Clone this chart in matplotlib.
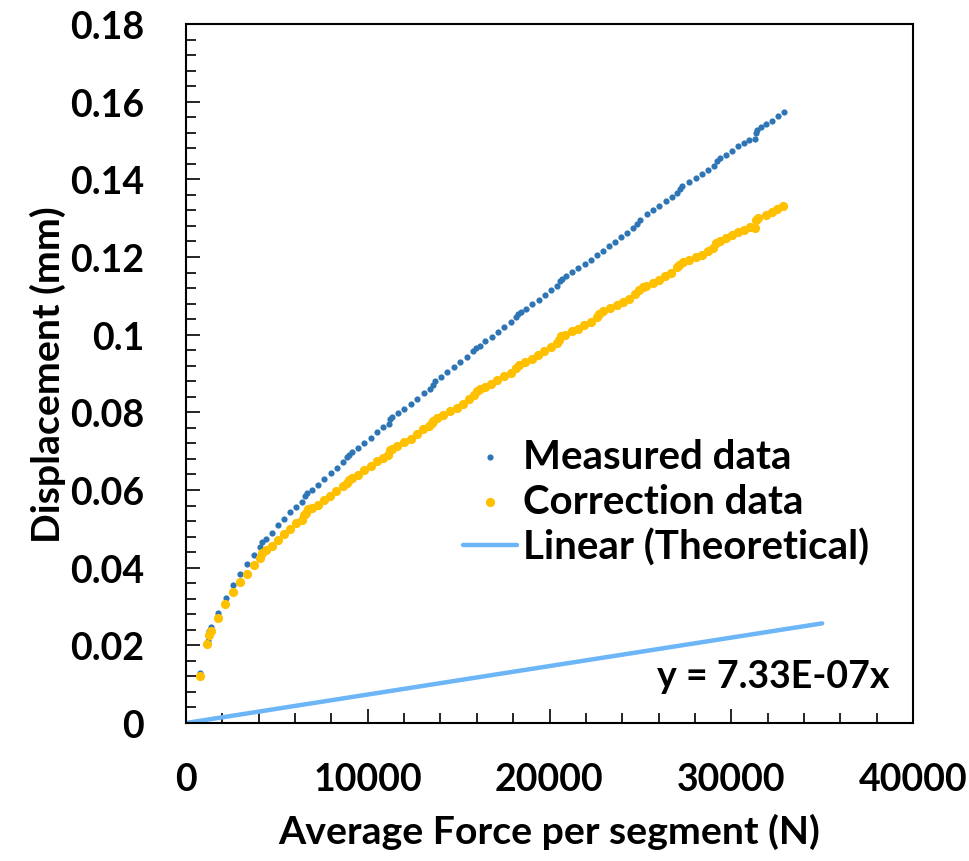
import matplotlib
matplotlib.use("Agg")
import matplotlib.pyplot as plt
from matplotlib.ticker import MultipleLocator, FixedLocator
import numpy as np

plt.rcParams['font.family'] = ['Lato', 'DejaVu Sans']
plt.rcParams['font.weight'] = 'bold'

# Measured displacement vs average force per segment
measured_force = [
    786, 1194, 1282, 1392, 1760, 2184, 2585, 2987, 3355, 3740,
    4070, 4208, 4400, 4714, 5044, 5407, 5720, 6050, 6364, 6545,
    6639, 6947, 7260, 7607, 7959, 8289, 8619, 8883, 8993, 9158,
    9460, 9807, 10159, 10522, 10852, 11182, 11220, 11347, 11644, 12007,
    12359, 12705, 13074, 13420, 13602, 13695, 14025, 14383, 14740, 15098,
    15455, 15813, 15950, 16170, 16445, 16814, 17177, 17507, 17875, 18150,
    18277, 18409, 18700, 19047, 19415, 19745, 20075, 20422, 20570, 20664,
    20900, 21247, 21577, 21945, 22275, 22605, 22935, 23265, 23623, 23953,
    24283, 24613, 24805, 24970, 25339, 25685, 26032, 26384, 26714, 27005,
    27154, 27280, 27693, 28050, 28380, 28727, 29040, 29189, 29354, 29700,
    30014, 30344, 30690, 30993, 31295, 31389, 31422, 31625, 31900, 32247,
    32560, 32890,
]
measured_disp = [
    0.01275, 0.02106, 0.02364, 0.02472, 0.02838, 0.03214, 0.03554, 0.03842, 0.04087, 0.04321,
    0.04532, 0.04656, 0.04738, 0.04898, 0.05086, 0.05258, 0.05428, 0.05567, 0.05686, 0.05850,
    0.05910, 0.06007, 0.06141, 0.06278, 0.06425, 0.06561, 0.06721, 0.06855, 0.06914, 0.06983,
    0.07081, 0.07215, 0.07344, 0.07498, 0.07627, 0.07712, 0.07833, 0.07874, 0.07970, 0.08091,
    0.08227, 0.08356, 0.08503, 0.08613, 0.08716, 0.08801, 0.08922, 0.09051, 0.09167, 0.09296,
    0.09425, 0.09579, 0.09656, 0.09721, 0.09831, 0.09945, 0.10063, 0.10192, 0.10321, 0.10460,
    0.10545, 0.10588, 0.10673, 0.10794, 0.10905, 0.11016, 0.11145, 0.11248, 0.11376, 0.11446,
    0.11505, 0.11618, 0.11721, 0.11832, 0.11935, 0.12051, 0.12167, 0.12283, 0.12399, 0.12515,
    0.12630, 0.12746, 0.12862, 0.12947, 0.13112, 0.13210, 0.13320, 0.13434, 0.13550, 0.13653,
    0.13751, 0.13828, 0.13936, 0.14034, 0.14142, 0.14253, 0.14356, 0.14466, 0.14554, 0.14639,
    0.14742, 0.14853, 0.14940, 0.15025, 0.15051, 0.15198, 0.15283, 0.15352, 0.15429, 0.15514,
    0.15625, 0.15738,
]

# Corrected displacement
corrected_force = [
    786, 1166, 1265, 1359, 1744, 2173, 2569, 2981, 3344, 3729,
    4070, 4191, 4389, 4714, 5044, 5407, 5720, 6050, 6364, 6518,
    6628, 6727, 6914, 7244, 7607, 7920, 8267, 8619, 8839, 8976,
    9114, 9444, 9807, 10159, 10489, 10852, 11127, 11220, 11314, 11622,
    11990, 12359, 12689, 13052, 13382, 13514, 13602, 13789, 14152, 14520,
    14889, 15252, 15582, 15840, 15989, 16170, 16445, 16764, 17122, 17490,
    17859, 18134, 18315, 18645, 19014, 19344, 19707, 20059, 20389, 20532,
    20625, 20845, 21214, 21544, 21907, 22275, 22589, 22732, 22952, 23320,
    23689, 24019, 24349, 24695, 24943, 25152, 25328, 25669, 26015, 26345,
    26703, 26989, 27132, 27319, 27682, 28034, 28364, 28727, 29002, 29150,
    29370, 29700, 30014, 30344, 30707, 31020, 31295, 31350, 31477, 31900,
    32247, 32544, 32852,
]
corrected_disp = [
    0.01223, 0.02029, 0.02258, 0.02372, 0.02709, 0.03069, 0.03368, 0.03626, 0.03842, 0.04063,
    0.04254, 0.04383, 0.04460, 0.04560, 0.04725, 0.04872, 0.05008, 0.05155, 0.05240, 0.05348,
    0.05420, 0.05498, 0.05529, 0.05619, 0.05737, 0.05858, 0.05969, 0.06098, 0.06193, 0.06262,
    0.06304, 0.06399, 0.06507, 0.06613, 0.06734, 0.06829, 0.06914, 0.07025, 0.07068, 0.07128,
    0.07231, 0.07326, 0.07447, 0.07558, 0.07643, 0.07730, 0.07789, 0.07859, 0.07944, 0.08029,
    0.08116, 0.08227, 0.08348, 0.08459, 0.08544, 0.08588, 0.08665, 0.08742, 0.08827, 0.08930,
    0.09018, 0.09146, 0.09231, 0.09291, 0.09386, 0.09489, 0.09592, 0.09687, 0.09790, 0.09875,
    0.09960, 0.10004, 0.10089, 0.10151, 0.10243, 0.10339, 0.10460, 0.10537, 0.10604, 0.10691,
    0.10758, 0.10846, 0.10931, 0.11052, 0.11163, 0.11232, 0.11258, 0.11335, 0.11420, 0.11505,
    0.11593, 0.11742, 0.11806, 0.11866, 0.11917, 0.12005, 0.12064, 0.12167, 0.12236, 0.12365,
    0.12424, 0.12484, 0.12561, 0.12638, 0.12708, 0.12767, 0.12751, 0.12965, 0.13009, 0.13086,
    0.13163, 0.13248, 0.13326,
]

# Theoretical stiffness line y = k * x
theory_slope = 7.33e-7
theory_force = [0, 35000]

x_ticks = [0, 10000, 20000, 30000, 40000]
y_ticks = [0, 0.02, 0.04, 0.06, 0.08, 0.1, 0.12, 0.14, 0.16, 0.18]
y_tick_labels = ['0', '0.02', '0.04', '0.06', '0.08', '0.1', '0.12', '0.14', '0.16', '0.18']

BLUE = '#2E75B6'
GOLD = '#FFC000'
LIGHT = '#6CB6F8'
FS = 27

fig = plt.figure(figsize=(9.69, 8.62), dpi=100)
ax = fig.add_axes([186 / 969, 1 - 724 / 862, 727 / 969, 699 / 862])

ax.scatter(measured_force, measured_disp, s=20, color=BLUE, linewidths=0,
           zorder=3, label='Measured data')
ax.scatter(corrected_force, corrected_disp, s=44, color=GOLD, linewidths=0,
           zorder=4, label='Correction data')
tf = np.array(theory_force, dtype=float)
ax.plot(tf, theory_slope * tf, color=LIGHT, lw=3.2, solid_capstyle='round',
        zorder=2, label='Linear (Theoretical)')

ax.set_xlim(0, 40000)
ax.set_ylim(0, 0.18)
ax.xaxis.set_major_locator(FixedLocator(x_ticks))
ax.xaxis.set_minor_locator(MultipleLocator(2000))
ax.yaxis.set_major_locator(FixedLocator(y_ticks))
ax.set_yticklabels(y_tick_labels)
ax.yaxis.set_minor_locator(MultipleLocator(0.004))

for sp in ax.spines.values():
    sp.set_linewidth(1.5)
    sp.set_color('black')

ax.tick_params(which='both', direction='in', width=1.2, colors='black',
               top=False, right=False)
ax.tick_params(which='major', length=10)
ax.tick_params(which='minor', length=7)
ax.tick_params(axis='y', which='major', pad=30, labelsize=FS)
ax.tick_params(axis='x', which='major', pad=28, labelsize=FS)
for lab in ax.get_xticklabels() + ax.get_yticklabels():
    lab.set_fontweight('bold')

ax.set_xlabel('Average Force per segment (N)', fontsize=28.3, fontweight='bold',
              labelpad=12)
ax.set_ylabel('Displacement (mm)', fontsize=28.3, fontweight='bold', labelpad=3)

ax.text(38700, 0.0120, 'y = 7.33E-07x', fontsize=FS, fontweight='bold',
        ha='right', va='center')

leg = ax.legend(loc='upper left', bbox_to_anchor=(0.381, 0.408), frameon=False,
                handlelength=1.35, handletextpad=0.13,
                labelspacing=0.2, borderpad=0, borderaxespad=0,
                scatterpoints=1, prop={'weight': 'bold', 'size': 29})

fig.savefig('out.png', dpi=100, facecolor='white')
